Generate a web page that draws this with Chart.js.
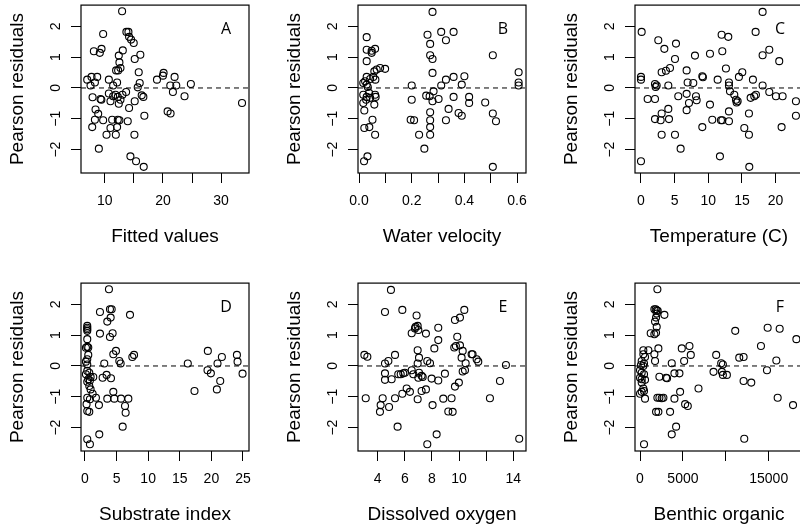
<!DOCTYPE html>
<html lang="en">
<head>
<meta charset="UTF-8">
<title>Pearson residuals</title>
<script src="https://cdn.jsdelivr.net/npm/chart.js"></script>
<style>
    body {
        margin: 0;
        width: 800px;
        height: 528px;
        overflow: hidden;
        position: relative;
        background: #fff;
    }
    canvas {
        position: absolute;
    }
</style>
</head>
<body>
<canvas id="pA" width="258" height="265" style="left:1px;top:0px"></canvas>
<canvas id="pB" width="258" height="265" style="left:278px;top:0px"></canvas>
<canvas id="pC" width="258" height="265" style="left:555px;top:0px"></canvas>
<canvas id="pD" width="258" height="265" style="left:1px;top:278px"></canvas>
<canvas id="pE" width="258" height="265" style="left:278px;top:278px"></canvas>
<canvas id="pF" width="258" height="265" style="left:555px;top:278px"></canvas>
<script>
// residual axis, shared by all panels
const yRange = [-2.76, 2.69];
const yTicks = [-2, -1, 0, 1, 2];
const yLabels = ["\u22122", "\u22121", "0", "1", "2"];

// A: fitted values
const aX = [12.97, 9.71, 13.71, 14.06, 14.17, 14.51, 14.97, 9.43, 9.14, 8.11, 13.09, 12.4, 16.11, 15.14, 12.51, 12.69, 11.94, 12.29, 15.83, 6.97,
            7.71, 8.69, 8.29, 7.54, 10.69, 12.11, 11.43, 16.0, 15.66, 18.97, 20.11, 20.0, 22.0, 21.26, 22.29, 21.71, 24.8, 23.71, 33.6, 20.8,
            21.31, 7.89, 9.26, 10.69, 10.97, 11.43, 11.83, 12.23, 12.4, 12.69, 13.03, 13.66, 14.17, 15.14, 16.34, 16.63, 16.8, 8.4, 8.86, 8.29,
            7.83, 9.71, 11.26, 10.97, 12.23, 12.51, 12.11, 13.94, 10.29, 11.89, 15.09, 8.97, 14.4, 15.37, 16.69, 9.4];
const aY = [2.49, 1.75, 1.82, 1.82, 1.66, 1.57, 1.46, 1.27, 1.14, 1.19, 1.22, 1.05, 1.08, 0.94, 0.83, 0.65, 0.57, 0.57, 0.51, 0.27,
            0.36, 0.36, 0.18, 0.08, 0.27, 0.18, 0.08, 0.16, 0.02, 0.27, 0.49, 0.40, 0.36, 0.08, 0.08, -0.13, 0.13, -0.27, -0.49, -0.76,
            -0.83, -0.30, -0.36, -0.18, -0.43, -0.27, -0.22, -0.29, -0.51, -0.38, -0.22, -0.13, -0.65, -0.43, -0.24, -0.29, -0.90, -0.70, -0.84, -1.03,
            -1.27, -1.05, -1.03, -1.30, -1.03, -1.05, -1.27, -1.08, -1.52, -1.52, -1.52, -1.97, -2.22, -2.38, -2.56, -0.38];
const aRange = [5.9, 34.8];
const aTicks = [10, 15, 20, 25, 30];
const aLabels = ["10", "", "20", "", "30"];

// B: water velocity
const bX = [0.279, 0.029, 0.029, 0.048, 0.048, 0.061, 0.029, 0.067, 0.08, 0.099, 0.058, 0.029, 0.042, 0.054, 0.062, 0.016, 0.023, 0.029, 0.033, 0.016,
            0.029, 0.038, 0.042, 0.027, 0.016, 0.061, 0.063, 0.058, 0.02, 0.051, 0.039, 0.02, 0.061, 0.032, 0.019, 0.26, 0.27, 0.27, 0.279, 0.279,
            0.312, 0.33, 0.359, 0.33, 0.312, 0.359, 0.40, 0.39, 0.20, 0.20, 0.255, 0.268, 0.283, 0.279, 0.302, 0.359, 0.34, 0.418, 0.418, 0.378,
            0.39, 0.27, 0.27, 0.27, 0.27, 0.33, 0.196, 0.209, 0.228, 0.248, 0.479, 0.508, 0.508, 0.52, 0.508, 0.606, 0.606, 0.606];
const bY = [2.47, 1.65, 1.24, 1.21, 1.14, 1.27, 0.87, 0.60, 0.65, 0.62, 0.54, 0.36, 0.29, 0.36, 0.27, 0.16, 0.22, 0.11, 0.03, -0.22,
            -0.29, -0.16, -0.32, -0.38, -0.49, -0.22, -0.29, -0.54, -0.73, -1.03, -1.27, -1.30, -1.52, -2.22, -2.38, 1.73, 1.43, 1.06, 0.94, 0.49,
            1.82, 1.55, 1.82, 0.27, 0.08, 0.36, 0.38, 0.11, 0.08, -0.38, -0.25, -0.27, -0.11, -0.43, -0.36, -0.29, -0.68, -0.29, -0.49, -0.81,
            -0.90, -0.79, -1.05, -1.27, -1.52, -1.05, -1.03, -1.05, -1.52, -1.97, -0.47, 1.06, -0.83, -1.08, -2.56, 0.51, 0.18, 0.08];
const bRange = [-0.004, 0.634];
const bTicks = [0, 0.1, 0.2, 0.3, 0.4, 0.5, 0.6];
const bLabels = ["0.0", "", "0.2", "", "0.4", "", "0.6"];

// C: temperature
const cX = [0.1, 0, 0, 0, 0.99, 2.08, 2.18, 2.33, 2.08, 2.08, 2.92, 2.57, 3.47, 3.07, 3.71, 4.31, 4.06, 3.07, 3.07, 4.16,
            4.06, 5.05, 5.2, 5.54, 5.05, 5.89, 6.78, 6.78, 6.78, 6.93, 7.13, 7.77, 8.17, 8.27, 8.02, 9.11, 9.2, 9.11, 10.25, 10.25,
            10.59, 11.39, 11.98, 12.97, 12.08, 12.62, 13.07, 13.07, 13.22, 13.07, 13.07, 12.08, 11.73, 13.86, 14.11, 14.21, 14.36, 14.55, 15.05, 15.35,
            16.04, 16.04, 16.09, 16.29, 16.63, 16.83, 17.08, 17.03, 18.07, 18.07, 19.06, 18.07, 19.06, 20.05, 21.04, 20.54, 20.89, 23.02, 23.02, 11.88];
const cY = [1.82, 0.36, 0.27, -2.38, -0.36, 0.13, 0.03, 0.08, -0.36, -1.01, -1.05, 1.55, 1.27, 0.51, 0.56, 0.65, 0.08, -0.83, -1.52, -1.01,
            -0.68, 0.94, 1.44, -0.27, -1.52, -1.97, 0.57, -0.19, -0.72, 0.18, -0.49, 0.16, -0.27, -0.40, 1.05, 0.38, 0.35, -1.27, 1.11, -0.54,
            -1.03, 0.27, 1.73, 1.66, 1.19, 0.63, 0.18, 0.08, -0.11, -0.76, -1.08, -1.05, -2.22, -0.22, -0.38, -0.47, -0.43, 0.36, 0.51, -1.30,
            -1.52, -0.83, -2.56, -0.32, 0.27, -0.27, -0.22, 1.82, 2.47, 1.06, 1.24, 0.08, -0.13, -0.27, -0.27, 0.87, -1.27, -0.43, -0.90, -1.05];
const cRange = [-0.89, 24.07];
const cTicks = [0, 5, 10, 15, 20];
const cLabels = ["0", "5", "10", "15", "20"];

// D: substrate index
const dX = [3.8, 2.38, 3.96, 4.23, 4.07, 3.54, 7.13, 0.37, 0.37, 0.37, 0.37, 0.37, 2.38, 4.38, 3.96, 0.37, 0.53, 0.16, 4.91, 4.49,
            0.53, 0.37, 0.16, 0.37, 5.44, 5.65, 3.06, 7.5, 7.77, 0.37, 0.69, 0.16, 0.9, 0.53, 0.37, 0.79, 1.32, 0.69, 0.9, 1.22,
            2.8, 3.43, 4.12, 0.37, 0.79, 1.74, 2.22, 0.26, 3.54, 4.49, 4.65, 5.71, 6.87, 6.34, 6.44, 0.37, 0.69, 5.97, 2.27, 0.37,
            0.79, 16.27, 17.33, 19.44, 19.39, 19.92, 20.97, 21.66, 21.4, 20.87, 24.04, 24.14, 24.93];
const dY = [2.49, 1.75, 1.84, 1.84, 1.57, 1.44, 1.66, 1.30, 1.24, 1.19, 1.14, 0.87, 1.05, 1.06, 0.94, 0.62, 0.60, 0.59, 0.49, 0.38,
            0.36, 0.22, 0.14, 0.05, 0.16, 0.08, 0.08, 0.29, 0.36, -0.16, -0.22, -0.27, -0.36, -0.43, -0.51, -0.47, -0.36, -0.65, -0.76, -0.90,
            -0.38, -0.29, -0.40, -1.03, -1.08, -1.03, -1.27, -1.24, -1.06, -0.84, -1.06, -1.06, -1.06, -1.30, -1.52, -1.46, -1.49, -1.97, -2.22, -2.38,
            -2.54, 0.08, -0.81, 0.49, -0.14, -0.24, 0.08, 0.29, -0.49, -0.76, 0.36, 0.14, -0.25];
const dRange = [-0.62, 25.95];
const dTicks = [0, 5, 10, 15, 20, 25];
const dLabels = ["0", "5", "10", "15", "20", "25"];

// E: dissolved oxygen
const eX = [4.98, 4.54, 5.82, 6.87, 6.80, 6.95, 6.75, 6.51, 7.0, 7.56, 8.47, 8.47, 8.18, 6.95, 7.05, 6.95, 7.66, 7.86, 3.02, 3.24,
            5.28, 4.79, 4.54, 4.54, 4.54, 5.03, 5.52, 5.70, 5.89, 6.01, 6.51, 6.63, 7.05, 7.24, 7.0, 7.32, 7.98, 8.47, 8.96, 6.14,
            6.38, 5.82, 7.24, 7.56, 3.12, 4.37, 4.22, 4.17, 4.84, 5.28, 6.95, 8.05, 8.84, 5.47, 7.66, 8.35, 9.21, 9.53, 9.45, 9.70,
            9.99, 9.70, 10.07, 10.39, 9.87, 9.65, 9.77, 10.07, 10.27, 10.19, 10.27, 10.44, 10.49, 10.93, 11.0, 11.30, 11.42, 12.28, 13.02, 13.46, 14.44];
const eY = [2.47, 1.75, 1.82, 1.64, 1.27, 1.30, 1.22, 1.06, 1.17, 1.05, 1.24, 0.84, 0.57, 0.51, 0.27, 0.08, 0.16, 0.09, 0.36, 0.30,
            0.36, 0.16, 0.08, -0.24, -0.45, -0.43, -0.27, -0.27, -0.24, -0.22, -0.14, -0.27, -0.22, -0.32, -0.38, -0.36, -0.41, -0.47, -0.25, -0.73,
            -0.84, -0.90, -0.81, -0.76, -1.05, -1.05, -1.27, -1.49, -1.33, -1.05, -1.08, -1.27, -1.06, -1.97, -2.54, -2.22, -1.48, -1.49, -1.05, -0.67,
            -0.54, 1.49, 1.57, 1.82, 0.95, 0.60, 0.65, 0.67, 0.49, 0.27, -0.18, -0.14, 0.09, 0.38, 0.38, 0.22, 0.14, -1.05, -0.49, 0.03, -2.36];
const eRange = [2.55, 14.94];
const eTicks = [4, 6, 8, 10, 12, 14];
const eLabels = ["4", "6", "8", "10", "", "14"];

// F: benthic organic
const fX = [2025, 1674, 1830, 1947, 2064, 1947, 1869, 1752, 1947, 1869, 1674, 1246, 2843, 2142, 1674, 1752, 389, 973, 389, 584,
            195, 467, 117, 389, 0, 195, 467, 0, 195, 584, 195, 389, 195, 0, 467, 584, 2259, 3037, 3154, 3699,
            4011, 4595, 4868, 5140, 5763, 5919, 4673, 4011, 5257, 5568, 6815, 2025, 2259, 2726, 2531, 1869, 2142, 3505, 4206, 3699,
            467, 8878, 8567, 9462, 9657, 9540, 9657, 10124, 11098, 11565, 12071, 12071, 12967, 12149, 14096, 14875, 14797, 16277, 15888, 16043,
            17834, 18224];
const fY = [2.49, 1.84, 1.84, 1.81, 1.79, 1.70, 1.57, 1.44, 1.27, 1.08, 1.03, 1.06, 1.66, 0.57, 0.38, 0.16, 0.51, 0.51, 0.38, 0.29,
            0.16, 0.08, 0.03, 0.0, -0.14, -0.22, -0.27, -0.38, -0.43, -0.45, -0.54, -0.73, -0.84, -0.90, -0.81, -1.06, -0.35, -0.38, -0.40, 0.09,
            -0.24, -0.24, 0.57, 0.16, 0.65, 0.36, -0.84, -1.06, -1.24, -1.30, -0.73, -1.03, -1.03, -1.03, -1.05, -1.49, -1.49, -1.49, -1.97, -2.22,
            -2.54, 0.36, -0.19, 0.09, 0.05, -0.19, -0.29, -0.29, 1.14, 0.27, 0.29, -0.49, -0.54, -2.36, 0.65, 1.24, -0.14, 1.21, 0.18, -1.03,
            -1.27, 0.87];
const fRange = [-584, 18995];
const fTicks = [0, 5000, 10000, 15000];
const fLabels = ["0", "5000", "", "15000"];

Chart.defaults.font.family = '"Liberation Sans", Arial, sans-serif';
Chart.defaults.color = "#000";

// box round the plot region and the panel letter
const framePlugin = {
    id: "frame",
    afterDraw(chart, args, opts) {
        const { ctx, chartArea: a } = chart;
        ctx.save();
        ctx.strokeStyle = "#000";
        ctx.lineWidth = 1.2;
        ctx.strokeRect(a.left, a.top, a.right - a.left, a.bottom - a.top);
        ctx.fillStyle = "#000";
        ctx.font = '16px "Open Sans", sans-serif';
        ctx.textAlign = "center";
        ctx.textBaseline = "middle";
        ctx.fillText(opts.letter, a.right - 23, a.top + 24);
        ctx.restore();
    }
};

function tickAxis(range, ticks, labels, title, isY) {
    return {
        type: "linear",
        min: range[0],
        max: range[1],
        afterBuildTicks: s => { s.ticks = ticks.map(v => ({ value: v })); },
        afterFit: s => {
            if (isY) { s.width = 80; s.paddingTop = 0; s.paddingBottom = 0; }
            else { s.height = 92; s.paddingLeft = 0; s.paddingRight = 0; }
        },
        grid: { drawOnChartArea: false, drawTicks: true, tickLength: 10, color: "#000", lineWidth: 1 },
        border: { display: false },
        ticks: {
            autoSkip: false,
            minRotation: isY ? 90 : 0,
            maxRotation: isY ? 90 : 0,
            crossAlign: isY ? "center" : "near",
            padding: isY ? 6.5 : 10,
            font: { size: 14 },
            color: "#000",
            callback: (v, i) => labels[i]
        },
        title: {
            display: true,
            text: title,
            font: { size: 19 },
            color: "#000",
            padding: isY ? { top: 5.6, bottom: 0 } : { top: 0, bottom: 17 }
        }
    };
}

function makePanel(id, xs, ys, xRange, xTicks, xLabels, xTitle, letter) {
    const pts = xs.map((x, i) => ({ x: x, y: ys[i] }));
    new Chart(document.getElementById(id), {
        type: "scatter",
        data: {
            datasets: [
                {
                    type: "line",
                    data: [{ x: xRange[0], y: 0 }, { x: xRange[1], y: 0 }],
                    borderColor: "#000",
                    borderWidth: 1,
                    borderDash: [5, 4],
                    pointRadius: 0
                },
                {
                    data: pts,
                    pointRadius: 3.5,
                    pointBorderWidth: 1.1,
                    pointBorderColor: "#000",
                    pointBackgroundColor: "rgba(0,0,0,0)"
                }
            ]
        },
        options: {
            responsive: false,
            animation: false,
            devicePixelRatio: 1,
            events: [],
            layout: { padding: { left: 0, top: 5, right: 10, bottom: 0 } },
            plugins: { legend: { display: false }, tooltip: { enabled: false }, frame: { letter: letter } },
            scales: {
                x: tickAxis(xRange, xTicks, xLabels, xTitle, false),
                y: tickAxis(yRange, yTicks, yLabels, "Pearson residuals", true)
            }
        },
        plugins: [framePlugin]
    });
}

makePanel("pA", aX, aY, aRange, aTicks, aLabels, "Fitted values", "A");
makePanel("pB", bX, bY, bRange, bTicks, bLabels, "Water velocity", "B");
makePanel("pC", cX, cY, cRange, cTicks, cLabels, "Temperature (C)", "C");
makePanel("pD", dX, dY, dRange, dTicks, dLabels, "Substrate index", "D");
makePanel("pE", eX, eY, eRange, eTicks, eLabels, "Dissolved oxygen", "E");
makePanel("pF", fX, fY, fRange, fTicks, fLabels, "Benthic organic", "F");
</script>
</body>
</html>
